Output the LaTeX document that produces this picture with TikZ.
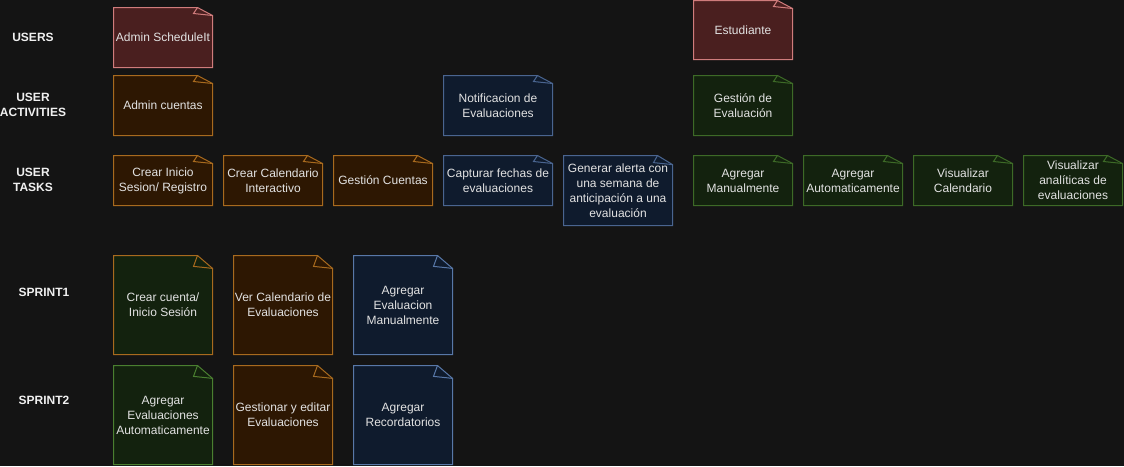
\documentclass[tikz,border=0pt]{standalone}
\usepackage{fontspec}
\setmainfont{Liberation Sans}
\definecolor{bg}{HTML}{141414}
\definecolor{txt}{HTML}{E2E2E2}
\definecolor{labtxt}{HTML}{F0F0F0}
\definecolor{redfill}{HTML}{4A1F1F}
\definecolor{redline}{HTML}{D07C7C}
\definecolor{orfill}{HTML}{2D1702}
\definecolor{orline}{HTML}{A86A1E}
\definecolor{blfill}{HTML}{0F1B2D}
\definecolor{blline}{HTML}{4A6590}
\definecolor{blline2}{HTML}{5878A8}
\definecolor{grfill}{HTML}{13220E}
\definecolor{grline}{HTML}{3D6A27}
\definecolor{grline2}{HTML}{4A7F30}
\tikzset{
  notebox/.style={line width=1pt, line join=miter},
  notetext/.style={align=center, inner sep=0pt, text=txt, font=\fontsize{12}{15}\selectfont},
  lab/.style={align=center, inner sep=0pt, text=labtxt, font=\fontsize{12}{15}\selectfont\bfseries}
}
\newcommand\mknote[8]{%
  \pgfmathsetmacro\nd{max(8,0.13*#5)}%
  \path[notebox, fill=#6, draw=#7] (#2,#3) -- (#2+#4-15,#3) -- (#2+#4,#3+\nd) -- (#2+#4,#3+#5) -- (#2,#3+#5) -- cycle;
  \draw[notebox, draw=#7] (#2+#4-15,#3) -- (#2+#4-19,#3+\nd-2) -- (#2+#4,#3+\nd);
  \node[notetext] (#1) at (#2+#4/2,#3+#5/2) {#8};
}
\begin{document}
\begin{tikzpicture}[x=1pt,y=-1pt]
\fill[bg] (0,0) rectangle (1124,466);
\useasboundingbox (0,0) rectangle (1124,466);
% row labels
\node[lab] (lusers) at (33,37) {USERS};
\node[lab] (lact) at (33,104.5) {USER\\ACTIVITIES};
\node[lab] (ltasks) at (33,179.5) {USER\\TASKS};
\node[lab] (ls1) at (44,292) {SPRINT1};
\node[lab] (ls2) at (44,400) {SPRINT2};
% users
\mknote{admin}{113.5}{7.5}{99}{60}{redfill}{redline}{Admin ScheduleIt}
\mknote{estud}{693.5}{0.5}{99}{59}{redfill}{redline}{Estudiante}
% activities
\mknote{admcu}{113.5}{75.5}{99}{60}{orfill}{orline}{Admin cuentas}
\mknote{notif}{443.5}{75.5}{109}{60}{blfill}{blline}{Notificacion de\\Evaluaciones}
\mknote{gest}{693.5}{75.5}{99}{60}{grfill}{grline}{Gestión de\\Evaluación}
% tasks
\mknote{t1}{113.5}{155.5}{99}{50}{orfill}{orline}{Crear Inicio\\Sesion/ Registro}
\mknote{t2}{223.5}{155.5}{99}{50}{orfill}{orline}{Crear Calendario\\Interactivo}
\mknote{t3}{333.5}{155.5}{99}{50}{orfill}{orline}{Gestión Cuentas}
\mknote{t4}{443.5}{155.5}{109}{50}{blfill}{blline}{Capturar fechas de\\evaluaciones}
\mknote{t5}{563.5}{155.5}{109}{70}{blfill}{blline}{Generar alerta con\\una semana de\\anticipación a una\\evaluación}
\mknote{t6}{693.5}{155.5}{99}{50}{grfill}{grline}{Agregar\\Manualmente}
\mknote{t7}{803.5}{155.5}{99}{50}{grfill}{grline}{Agregar\\Automaticamente}
\mknote{t8}{913.5}{155.5}{99}{50}{grfill}{grline}{Visualizar\\Calendario}
\mknote{t9}{1023.5}{155.5}{99}{50}{grfill}{grline}{Visualizar\\analíticas de\\evaluaciones}
% sprint 1
\mknote{s11}{113.5}{255.5}{99}{99}{grfill}{orline}{Crear cuenta/\\Inicio Sesión}
\mknote{s12}{233.5}{255.5}{99}{99}{orfill}{orline}{Ver Calendario de\\Evaluaciones}
\mknote{s13}{353.5}{255.5}{99}{99}{blfill}{blline2}{Agregar\\Evaluacion\\Manualmente}
% sprint 2
\mknote{s21}{113.5}{365.5}{99}{99}{grfill}{grline2}{Agregar\\Evaluaciones\\Automaticamente}
\mknote{s22}{233.5}{365.5}{99}{99}{orfill}{orline}{Gestionar y editar\\Evaluaciones}
\mknote{s23}{353.5}{365.5}{99}{99}{blfill}{blline2}{Agregar\\Recordatorios}
\end{tikzpicture}
\end{document}
